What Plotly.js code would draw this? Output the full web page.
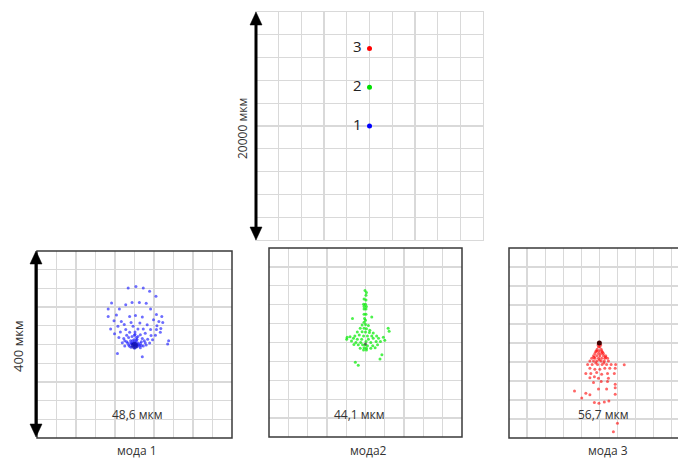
<!DOCTYPE html>
<html><head><meta charset="utf-8">
<script src="https://cdn.plot.ly/plotly-3.0.1.min.js"></script>
<style>html,body{margin:0;padding:0;background:#fff}#c{width:678px;height:459px}</style>
</head><body><div id="c"></div>
<script>
// ---- data (micrometres) ----
const topLabels = ['1', '2', '3'];
const topX = [10000, 10000, 10000];
const topY = [10000, 13400, 16800];
const topColors = ['#0000ff', '#00e000', '#ff0000'];

const mode1X = [-13,3,18,31,44,-47,-18,-5,10,24,33,-54,-31,45,-54,-37,-10,2,16,39,56,-42,-27,-21,-7,11,26,50,46,58,-49,-34,-18,-3,7,18,33,45,53,54,-41,-29,-16,-10,1,1,12,22,34,43,-32,-22,-12,-5,7,16,27,37,-25,-16,-8,-1,5,14,22,31,-12,-5,2,9,18,-1,5,-7,12,70,68,-35,3,-3,7,-20,24,-8,12,4,0,16,0,-3,3,6,-6,0,-10,10,-14,14,0,-4,4,20,-20];
const mode1Y = [121,124,121,114,103,89,85,90,90,88,76,76,76,64,60,63,60,62,59,53,60,51,49,43,47,46,42,49,40,47,33,39,32,39,33,33,32,32,26,34,23,27,20,26,27,22,21,24,19,20,15,13,15,17,17,13,11,10,4,6,8,10,11,6,4,3,-1,1,1,-1,-3,-4,-5,-6,-7,8,1,-19,6,4,3,-3,-1,3,2,15,20,-26,0,-2,-3,0,2,-8,-4,-3,3,-2,5,8,9,8,8];

const mode2X = [-1,2,1,-3,1,-4,0,-3,2,-3,1,-3,1,-27,13,-2,0,-3,0,-7,6,-11,-3,2,9,47,49,-17,-7,0,8,16,-22,-13,-4,4,13,23,-38,-32,-25,-17,-8,6,16,27,37,-39,-29,-20,-10,1,11,22,31,40,-24,-15,-6,-1,4,15,25,-11,-3,2,11,20,-4,2,34,30,-21,-15];
const mode2Y = [110,106,100,92,90,81,81,76,76,71,71,60,60,51,54,51,47,43,38,37,36,30,30,29,26,30,24,22,23,22,21,20,14,16,14,14,14,14,11,12,9,7,7,7,9,9,11,7,3,0,0,2,0,2,2,5,-4,-5,-5,-5,-7,-7,-5,-12,-11,-12,-12,-11,-16,-16,-26,-35,-42,-48];

const mode3X = [-2,1,-5,4,-6,-1,5,-10,-2,4,9,-13,-6,1,9,14,-17,-10,-2,5,12,18,-21,-13,-6,4,11,20,-26,-16,-4,6,16,26,36,55,-21,-10,1,12,23,35,-30,-19,-6,5,18,33,-21,-11,-2,20,-13,4,18,35,-2,16,35,-30,-21,35,-55,-39,-11,-1,11,21,40,31,-3,3,-8,7,-12,14,0,-8,10];
const mode3Y = [-8,-8,-13,-13,-17,-17,-17,-22,-22,-22,-22,-27,-27,-27,-27,-27,-32,-32,-32,-32,-32,-32,-38,-38,-38,-38,-38,-38,-45,-45,-45,-45,-45,-45,-45,-46,-53,-55,-55,-53,-53,-53,-64,-64,-62,-66,-64,-64,-73,-71,-74,-74,-83,-81,-81,-87,-97,-97,-94,-106,-109,-108,-101,-116,-125,-127,-124,-122,-169,-187,-4,-4,-18,-19,-30,-30,-36,-42,-42];

const peakX = [0, 0, 0];
const peakY = [-2, -3, 0];

const spotLabels = ['48,6 мкм', '44,1 мкм', '56,7 мкм'];
const modeNames = ['мода 1', 'мода2', 'мода 3'];
const bigScale = '20000 мкм';
const smallScale = '400 мкм';

// ---- layout helpers (pixel positions) ----
const W = 678, H = 459;
const fx = p => p / W;
const fy = p => 1 - p / H;
const FONT = '"Open Sans", "Noto Sans", sans-serif';
const GRID = '#d9d9d9';
const BORDER = '#3a3a3a';

function ax(domain, range, dtick, extra) {
  return Object.assign({
    domain: domain, range: range, dtick: dtick, tick0: range[0],
    showgrid: true, gridcolor: GRID, gridwidth: 1.3,
    zeroline: false, showticklabels: false, ticks: '', fixedrange: true
  }, extra || {});
}

const panels = [
  {l: 37, r: 232, t: 251, b: 438},
  {l: 269, r: 462, t: 248, b: 437},
  {l: 509, r: 678, t: 248, b: 438}
];

const traces = [
  {x: topX, y: topY, xaxis: 'x', yaxis: 'y', type: 'scatter', mode: 'markers+text',
   text: topLabels.map(s => s + ' '), textposition: 'middle left',
   textfont: {family: FONT, size: 15, color: '#222'},
   marker: {color: topColors, size: 5}},
  {x: mode1X, y: mode1Y, xaxis: 'x2', yaxis: 'y2', type: 'scatter', mode: 'markers',
   marker: {color: 'rgba(30,30,255,0.65)', size: 3}},
  {x: mode2X, y: mode2Y, xaxis: 'x3', yaxis: 'y3', type: 'scatter', mode: 'markers',
   marker: {color: 'rgba(0,235,0,0.7)', size: 3}},
  {x: mode3X, y: mode3Y, xaxis: 'x4', yaxis: 'y4', type: 'scatter', mode: 'markers',
   marker: {color: 'rgba(255,0,0,0.6)', size: 3}},
  {x: [peakX[0]], y: [peakY[0]], xaxis: 'x2', yaxis: 'y2', type: 'scatter', mode: 'markers',
   marker: {color: 'rgba(0,0,140,0.6)', size: 7}},
  {x: [peakX[1]], y: [peakY[1]], xaxis: 'x3', yaxis: 'y3', type: 'scatter', mode: 'markers',
   marker: {color: 'rgba(60,60,60,0.7)', size: 3}},
  {x: [peakX[2]], y: [peakY[2]], xaxis: 'x4', yaxis: 'y4', type: 'scatter', mode: 'markers',
   marker: {color: '#400000', size: 5}}
];

const shapes = [];
panels.forEach((p, i) => {
  const r = i === 2 ? 700 : p.r;
  shapes.push({type: 'path', xref: 'paper', yref: 'paper', layer: 'above',
    path: `M ${fx(r)} ${fy(p.t)} L ${fx(p.l)} ${fy(p.t)} L ${fx(p.l)} ${fy(p.b)} L ${fx(r)} ${fy(p.b)}` + (i === 2 ? '' : ' Z'),
    line: {color: BORDER, width: 1.5}});
});
function arrow(x, y0, y1) {
  const hw = 6, hh = 13;
  shapes.push({type: 'line', xref: 'paper', yref: 'paper', layer: 'above',
    x0: fx(x), x1: fx(x), y0: fy(y0 + 6), y1: fy(y1 - 6), line: {color: '#000', width: 3}});
  shapes.push({type: 'path', xref: 'paper', yref: 'paper', layer: 'above',
    path: `M ${fx(x)} ${fy(y0)} L ${fx(x - hw)} ${fy(y0 + hh)} L ${fx(x + hw)} ${fy(y0 + hh)} Z`,
    fillcolor: '#000', line: {color: '#000', width: 0.5}});
  shapes.push({type: 'path', xref: 'paper', yref: 'paper', layer: 'above',
    path: `M ${fx(x)} ${fy(y1)} L ${fx(x - hw)} ${fy(y1 - hh)} L ${fx(x + hw)} ${fy(y1 - hh)} Z`,
    fillcolor: '#000', line: {color: '#000', width: 0.5}});
}
arrow(256, 12, 240);
arrow(36, 251, 437);

const annotations = [];
function txt(x, y, t, size, angle) {
  annotations.push({xref: 'paper', yref: 'paper', x: fx(x), y: fy(y), text: t,
    showarrow: false, xanchor: 'center', yanchor: 'middle', textangle: angle || 0,
    font: {family: FONT, size: size, color: '#333'}});
}
txt(242, 129, bigScale, 12, -90);
txt(18, 347, smallScale, 13, -90);
const labelX = [137, 359, 603];
const nameX = [137, 368, 608];
spotLabels.forEach((s, i) => txt(labelX[i], 414, s, 12));
modeNames.forEach((s, i) => txt(nameX[i], 450, s, 12));

const layout = {
  width: W, height: H, margin: {l: 0, r: 0, t: 0, b: 0},
  paper_bgcolor: '#fff', plot_bgcolor: '#fff', showlegend: false,
  xaxis: ax([fx(256), fx(483)], [0, 20000], 2000, {anchor: 'y', showline: true, mirror: true, linecolor: GRID, linewidth: 1.3}),
  yaxis: ax([fy(240), fy(12)], [0, 20000], 2000, {anchor: 'x', showline: true, mirror: true, linecolor: GRID, linewidth: 1.3}),
  xaxis2: ax([fx(panels[0].l), fx(panels[0].r)], [-200, 200], 40, {anchor: 'y2'}),
  yaxis2: ax([fy(panels[0].b), fy(panels[0].t)], [-200, 200], 40, {anchor: 'x2'}),
  xaxis3: ax([fx(panels[1].l), fx(panels[1].r)], [-200, 200], 40, {anchor: 'y3'}),
  yaxis3: ax([fy(panels[1].b), fy(panels[1].t)], [-200, 200], 40, {anchor: 'x3'}),
  xaxis4: ax([fx(panels[2].l), 1], [-200, 174], 40, {anchor: 'y4'}),
  yaxis4: ax([fy(panels[2].b), fy(panels[2].t)], [-200, 200], 40, {anchor: 'x4'}),
  shapes: shapes, annotations: annotations
};

Plotly.newPlot('c', traces, layout, {staticPlot: true, displayModeBar: false});
</script></body></html>
